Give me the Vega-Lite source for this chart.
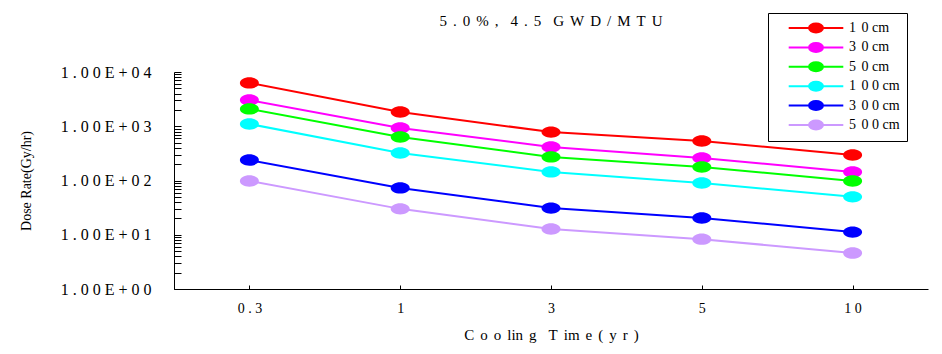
{
  "$schema": "https://vega.github.io/schema/vega-lite/v6.json",
  "width": 754,
  "height": 217,
  "autosize": {"type": "none"},
  "padding": {"left": 174, "top": 72, "right": 14, "bottom": 65},
  "background": "white",
  "title": {"text": "5\u2009\u2009.\u2009\u20090\u2009\u2009%\u2009\u2009,\u2009\u2009\u2009\u20094\u2009\u2009.\u2009\u20095\u2009\u2009\u2009\u2009G\u2009\u2009W\u2009\u2009D\u2009\u2009/\u2009\u2009M\u2009\u2009T\u2009\u2009U", "font": "Liberation Serif", "fontSize": 15, "fontWeight": "normal", "color": "black", "offset": -16, "anchor": "middle"},
  "config": {
    "view": {"stroke": null},
    "font": "Liberation Serif",
    "axis": {"labelFont": "Liberation Serif", "titleFont": "Liberation Serif", "labelColor": "black", "titleColor": "black", "domainColor": "black", "tickColor": "black", "grid": false, "titleFontWeight": "normal"}
  },
  "data": {"values": [
    {"series": "1 0 cm", "time": "0.3", "dose": 6300},
    {"series": "1 0 cm", "time": "1", "dose": 1830},
    {"series": "1 0 cm", "time": "3", "dose": 780},
    {"series": "1 0 cm", "time": "5", "dose": 535},
    {"series": "1 0 cm", "time": "10", "dose": 295},
    {"series": "3 0 cm", "time": "0.3", "dose": 3040},
    {"series": "3 0 cm", "time": "1", "dose": 930},
    {"series": "3 0 cm", "time": "3", "dose": 415},
    {"series": "3 0 cm", "time": "5", "dose": 260},
    {"series": "3 0 cm", "time": "10", "dose": 144},
    {"series": "5 0 cm", "time": "0.3", "dose": 2090},
    {"series": "5 0 cm", "time": "1", "dose": 635},
    {"series": "5 0 cm", "time": "3", "dose": 272},
    {"series": "5 0 cm", "time": "5", "dose": 177},
    {"series": "5 0 cm", "time": "10", "dose": 98},
    {"series": "1 0 0 cm", "time": "0.3", "dose": 1100},
    {"series": "1 0 0 cm", "time": "1", "dose": 322},
    {"series": "1 0 0 cm", "time": "3", "dose": 144},
    {"series": "1 0 0 cm", "time": "5", "dose": 90},
    {"series": "1 0 0 cm", "time": "10", "dose": 50},
    {"series": "3 0 0 cm", "time": "0.3", "dose": 238},
    {"series": "3 0 0 cm", "time": "1", "dose": 73},
    {"series": "3 0 0 cm", "time": "3", "dose": 31},
    {"series": "3 0 0 cm", "time": "5", "dose": 20.4},
    {"series": "3 0 0 cm", "time": "10", "dose": 11.2},
    {"series": "5 0 0 cm", "time": "0.3", "dose": 98},
    {"series": "5 0 0 cm", "time": "1", "dose": 30},
    {"series": "5 0 0 cm", "time": "3", "dose": 12.8},
    {"series": "5 0 0 cm", "time": "5", "dose": 8.3},
    {"series": "5 0 0 cm", "time": "10", "dose": 4.6}
  ]},
  "encoding": {
    "x": {"field": "time", "type": "ordinal", "sort": ["0.3", "1", "3", "5", "10"],
      "scale": {"paddingInner": 0, "paddingOuter": 0},
      "axis": {"title": "C\u2009\u2009o\u2009\u2009o\u2009\u2009lin\u2009\u2009g\u2009\u2009\u2009\u2009T\u2009\u2009im\u2009\u2009e\u2009\u2009(\u2009\u2009y\u2009\u2009r\u2009\u2009)", "titleFontSize": 15, "titlePadding": 12, "labelAngle": 0, "labelFontSize": 14, "labelPadding": 16, "tickSize": -4, "bandPosition": 0, "tickExtra": true, "labelExpr": "join(split(datum.label, ''), ' ')"}},
    "y": {"field": "dose", "type": "quantitative",
      "scale": {"type": "log", "domain": [1, 10000], "nice": false},
      "axis": {"title": "Dose Rate(Gy/hr)", "titleFontSize": 14, "titlePadding": 27, "labelFontSize": 16, "labelPadding": 30, "tickSize": -7,
        "values": [1,2,3,4,5,6,7,8,9,10,20,30,40,50,60,70,80,90,100,200,300,400,500,600,700,800,900,1000,2000,3000,4000,5000,6000,7000,8000,9000,10000],
        "labelExpr": "indexof([1,10,100,1000,10000], datum.value) >= 0 ? '1 . 0 0 E + 0 ' + round(log(datum.value)/LN10) : ''"}},
    "color": {"field": "series", "type": "nominal",
      "scale": {"domain": ["1 0 cm", "3 0 cm", "5 0 cm", "1 0 0 cm", "3 0 0 cm", "5 0 0 cm"], "range": ["#FF0000", "#FF00FF", "#00FF00", "#00FFFF", "#0000FF", "#CC99FF"]},
      "legend": {"title": null, "orient": "none", "legendX": 594, "legendY": -59, "strokeColor": "black", "fillColor": "white", "padding": 7,
        "labelFont": "Liberation Serif", "labelFontSize": 14, "labelColor": "black", "labelOffset": 25,
        "labelExpr": "replace(datum.label, ' ', '\u2009\u2009')",
        "symbolType": "M -3.9 0 L 3.9 0 M -1 0 A 1 0.64 0 1 1 1 0 A 1 0.64 0 1 1 -1 0 Z", "symbolSize": 196, "symbolStrokeWidth": 2, "symbolOffset": 33, "rowPadding": 1.4}}
  },
  "layer": [
    {"mark": {"type": "line", "strokeWidth": 2}},
    {"mark": {"type": "point", "filled": true, "opacity": 1, "size": 361, "shape": "M -1 0 A 1 0.6 0 1 1 1 0 A 1 0.6 0 1 1 -1 0 Z"}}
  ]
}
